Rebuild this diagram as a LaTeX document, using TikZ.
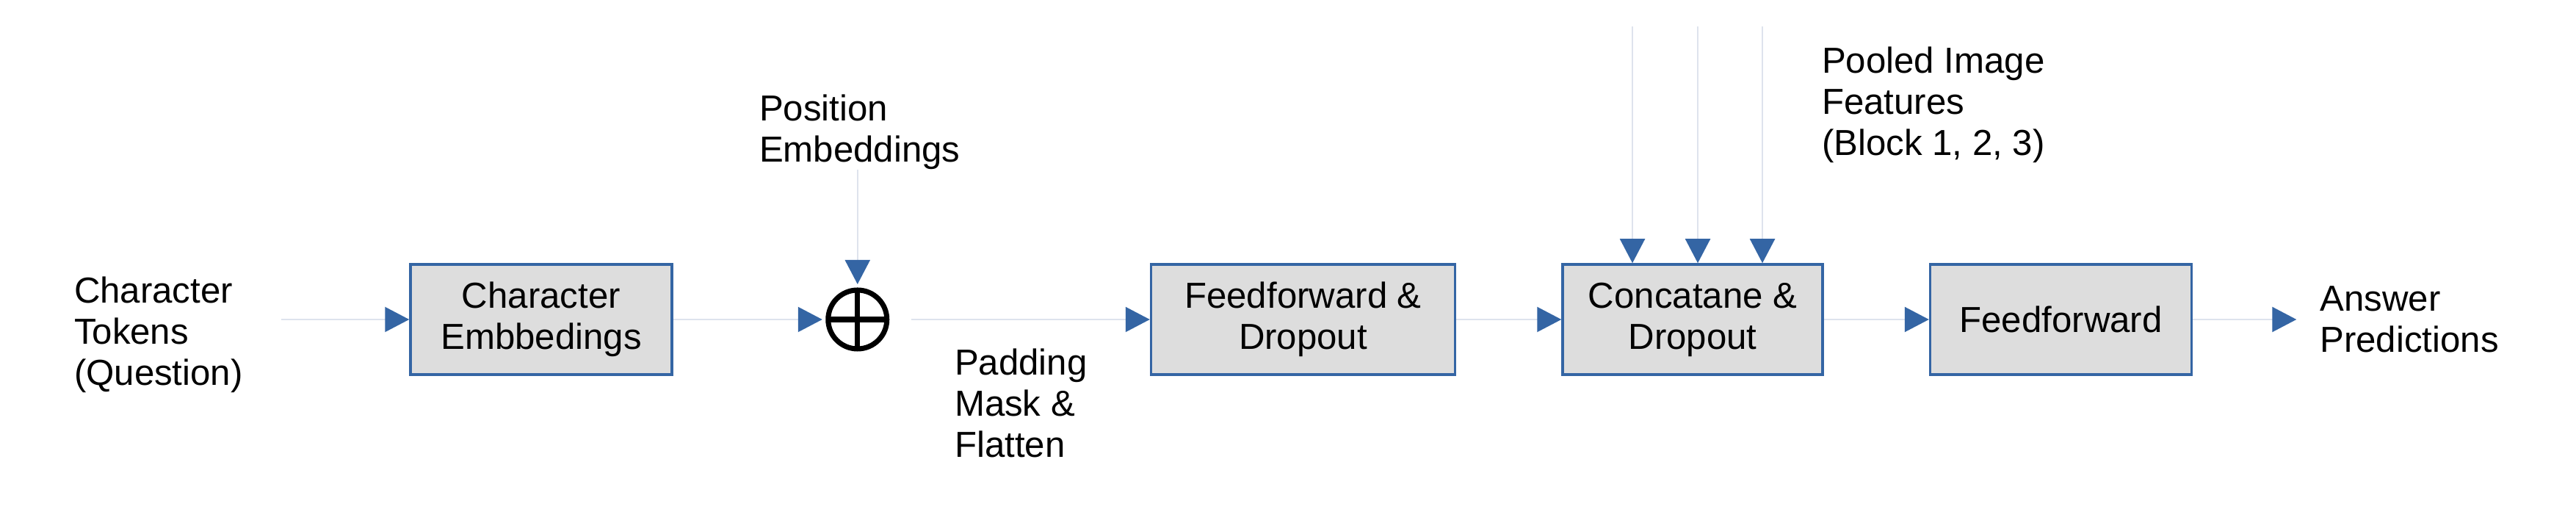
\documentclass[tikz,border=0pt]{standalone}
\usepackage{fontspec}
\setmainfont{Liberation Sans}
\usetikzlibrary{arrows.meta,positioning,calc}
\definecolor{boxblue}{RGB}{52,101,164}
\definecolor{boxgray}{RGB}{221,221,221}
\definecolor{linegray}{RGB}{222,227,237}

\begin{document}
\begin{tikzpicture}[
  font=\fontsize{14pt}{15.9pt}\selectfont,
  blk/.style={draw=boxblue, fill=boxgray, line width=1pt, minimum height=1.5cm, align=center, inner sep=0pt},
  lbl/.style={align=left, inner sep=0pt, outer sep=0pt},
  conn/.style={draw=linegray, line width=0.6pt, -{Triangle[length=0.33cm, width=0.34cm, color=boxblue]}},
  sumnode/.style={circle, draw, line width=2pt, minimum size=0.8cm, inner sep=0pt, outer sep=0.08cm,
    path picture={\draw[line width=2pt] (path picture bounding box.west) -- (path picture bounding box.east)
      (path picture bounding box.north) -- (path picture bounding box.south);}}
]
\useasboundingbox (0,0) rectangle (35.08,7.08);

\node[lbl, anchor=west] (tokens) at (1.01,2.52) {Character\\Tokens\\(Question)};
\node[blk, minimum width=3.56cm] (chemb) at (7.37,2.73) {Character\\Embbedings};
\node[sumnode, right=2.03cm of chemb] (plus) {};
\node[lbl, anchor=west] (posemb) at (10.34,5.28) {Position\\Embeddings};
\node[blk, minimum width=4.14cm, right=3.50cm of plus] (ffd) {Feedforward \&\\Dropout};
\node[lbl, anchor=west] (pad) at (13.00,1.59) {Padding\\Mask \&\\Flatten};
\node[blk, minimum width=3.54cm, right=1.43cm of ffd] (concat) {Concatane \&\\Dropout};
\node[lbl, anchor=west] (pooled) at (24.81,5.65) {Pooled Image\\Features\\(Block 1, 2, 3)};
\node[blk, minimum width=3.56cm, right=1.43cm of concat] (ff) {Feedforward};
\node[lbl, right=1.73cm of ff] (answer) {Answer\\Predictions};

% image features come in from the top
\foreach \i/\dx in {1/-0.82, 2/0.07, 3/0.95}
  \coordinate (pool\i) at ($(concat.north)+(\dx,3.22)$);

\draw[conn] ([xshift=0.52cm]tokens.east |- chemb.west) -- (chemb.west);
\draw[conn] (chemb) -- (plus);
\draw[conn] (posemb.south -| plus) -- (plus);
\draw[conn, shorten <=0.25cm] (plus) -- (ffd);
\draw[conn] (ffd) -- (concat);
\foreach \i in {1,2,3}
  \draw[conn] (pool\i) -- (pool\i |- concat.north);
\draw[conn] (concat) -- (ff);
\draw[conn, shorten >=0.32cm] (ff) -- (ff.east -| answer.west);
\end{tikzpicture}
\end{document}
